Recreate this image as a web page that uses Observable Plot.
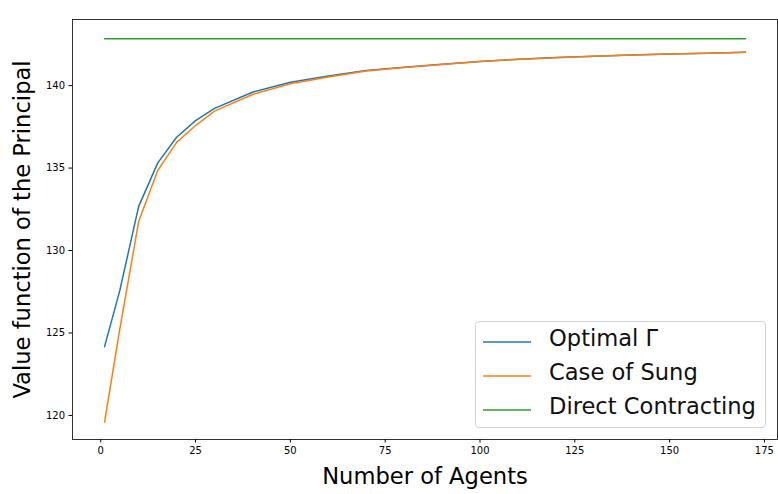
<!DOCTYPE html>
<html>
<head>
<meta charset="utf-8">
<script src="https://cdn.jsdelivr.net/npm/d3@7"></script>
<script src="https://cdn.jsdelivr.net/npm/@observablehq/plot@0.6"></script>
<style>
  html, body { margin: 0; padding: 0; background: white; }
  #wrap { position: relative; width: 778px; height: 494px; font-family: "DejaVu Sans", sans-serif; }
  #legend { position: absolute; left: 475px; top: 321px; width: 291px; height: 107px;
    border: 1px solid #d3d3d3; border-radius: 4px; background: rgba(255,255,255,0.85); box-sizing: border-box; }
  .row { position: absolute; left: 0; height: 30px; width: 100%; }
  .row svg { position: absolute; left: 7px; top: 14px; }
  .row span { position: absolute; left: 73px; top: -1px; font-size: 22.6px; color: #111; white-space: nowrap; }
</style>
</head>
<body>
<div id="wrap"></div>
<script>
const agents = [1, 5, 10, 15, 20, 25, 30, 40, 50, 60, 70, 80, 90, 100, 110, 120, 130, 140, 150, 160, 170];
const optimalGamma = [124.17, 127.55, 132.68, 135.3, 136.87, 137.88, 138.62, 139.6, 140.2, 140.58, 140.92, 141.12, 141.3, 141.47, 141.6, 141.7, 141.78, 141.85, 141.92, 141.97, 142.02];
const caseOfSung = [119.6, 125.2, 131.76, 134.84, 136.56, 137.58, 138.45, 139.46, 140.11, 140.52, 140.88, 141.1, 141.28, 141.46, 141.59, 141.69, 141.78, 141.85, 141.92, 141.97, 142.02];
const directAgents = [1, 170];
const directContracting = [142.85, 142.85];
const xTicks = [0, 25, 50, 75, 100, 125, 150, 175];
const yTicks = [120, 125, 130, 135, 140];
const seriesNames = ["Optimal Γ", "Case of Sung", "Direct Contracting"];
const seriesColors = ["#1f77b4", "#ff7f0e", "#2ca02c"];

const optData = agents.map((a, i) => ({x: a, y: optimalGamma[i]}));
const sungData = agents.map((a, i) => ({x: a, y: caseOfSung[i]}));
const directData = directAgents.map((a, i) => ({x: a, y: directContracting[i]}));

const chart = Plot.plot({
  width: 778,
  height: 494,
  marginLeft: 72,
  marginTop: 19,
  marginRight: 1,
  marginBottom: 55,
  style: {fontFamily: "DejaVu Sans", fontSize: "10px", background: "white", color: "#000"},
  x: {domain: [-7.45, 178.45], ticks: xTicks, tickSize: 3.5, tickPadding: 4, label: null},
  y: {domain: [118.54, 144.01], ticks: yTicks, tickSize: 3.5, tickPadding: 4, label: null},
  marks: [
    Plot.lineY(optData, {x: "x", y: "y", stroke: seriesColors[0], strokeWidth: 1.5}),
    Plot.lineY(sungData, {x: "x", y: "y", stroke: seriesColors[1], strokeWidth: 1.5}),
    Plot.lineY(directData, {x: "x", y: "y", stroke: seriesColors[2], strokeWidth: 1.5}),
    Plot.frame({stroke: "#000", strokeWidth: 0.8}),
    Plot.text(["Number of Agents"], {frameAnchor: "bottom", dy: 37, fontSize: 22.6, fill: "#000", lineAnchor: "middle"}),
    Plot.text(["Value function of the Principal"], {frameAnchor: "left", dx: -50, rotate: -90, textAnchor: "middle", lineAnchor: "middle", fontSize: 22.6, fill: "#000"})
  ]
});
const wrap = document.getElementById("wrap");
wrap.appendChild(chart);

const legend = document.createElement("div");
legend.id = "legend";
seriesNames.forEach((name, i) => {
  const row = document.createElement("div");
  row.className = "row";
  row.style.top = (4 + i * 34) + "px";
  row.innerHTML = `<svg width="48" height="4"><line x1="0" y1="2" x2="48" y2="2" stroke="${seriesColors[i]}" stroke-width="1.5"/></svg><span>${name}</span>`;
  legend.appendChild(row);
});
wrap.appendChild(legend);
</script>
</body>
</html>
